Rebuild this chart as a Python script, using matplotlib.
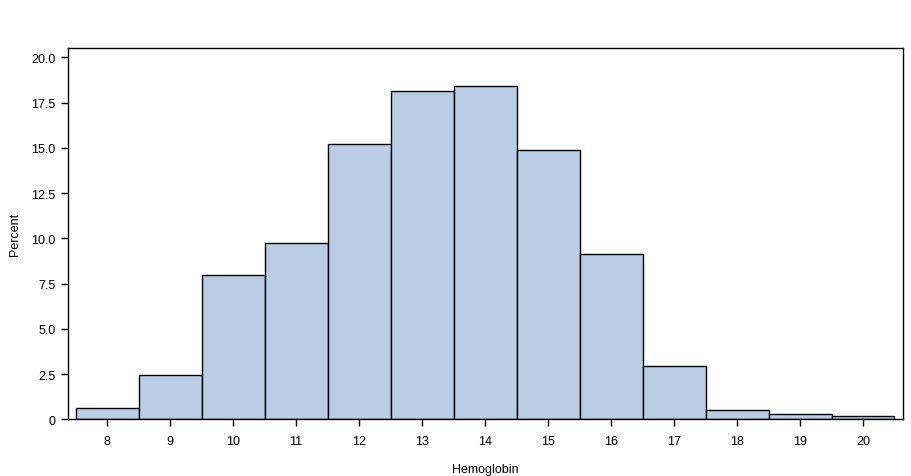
import matplotlib
matplotlib.use('Agg')
import matplotlib.pyplot as plt

# Hemoglobin histogram (percent per bin)
bins = [8, 9, 10, 11, 12, 13, 14, 15, 16, 17, 18, 19, 20]
percent = [0.6, 2.47, 7.98, 9.76, 15.2, 18.14, 18.42, 14.9, 9.15, 2.92, 0.49, 0.27, 0.16]
yticks = [0, 2.5, 5.0, 7.5, 10.0, 12.5, 15.0, 17.5, 20.0]
yticklabels = ['0', '2.5', '5.0', '7.5', '10.0', '12.5', '15.0', '17.5', '20.0']

plt.rcParams['font.family'] = ['Liberation Sans', 'DejaVu Sans']

fig = plt.figure(figsize=(9.11, 4.77), dpi=100)
W, H = 911, 477
ax = fig.add_axes([68 / W, (H - 420.3) / H, (903 - 68) / W, (420.3 - 49.3) / H])

ax.bar(bins, percent, width=1.0, color='#b9cde5', edgecolor='black', linewidth=1.0)

ax.set_xlim(7.38, 20.635)
ax.set_ylim(0, 20.5)
ax.set_xticks(bins)
ax.set_xticklabels([str(b) for b in bins])
ax.set_yticks(yticks)
ax.set_yticklabels(yticklabels)
ax.tick_params(direction='out', length=5, width=1, labelsize=9)
ax.tick_params(axis='x', pad=6)
ax.tick_params(axis='y', pad=4)
for s in ax.spines.values():
    s.set_linewidth(1.0)

ax.set_xlabel('Hemoglobin', fontsize=9, labelpad=12)
ax.set_ylabel('Percent', fontsize=9, labelpad=7)

fig.savefig('out.png', dpi=100)
